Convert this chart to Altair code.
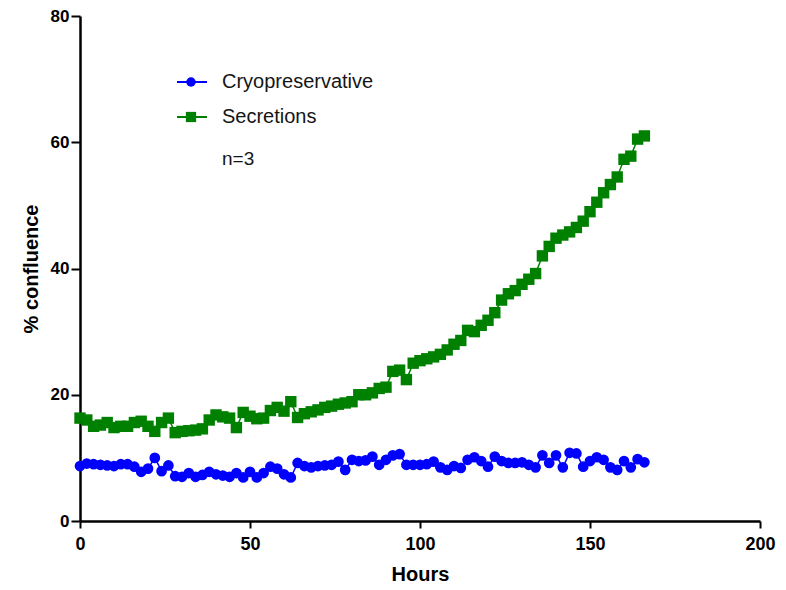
import altair as alt
import pandas as pd

hours = list(range(0, 168, 2))

cryo = [8.7, 9.1, 9.0, 8.9, 8.8, 8.7, 9.0, 9.0, 8.6, 7.8,
        8.3, 10.0, 7.9, 8.8, 7.1, 7.0, 7.6, 7.0, 7.3, 7.8,
        7.4, 7.2, 7.0, 7.6, 6.9, 7.8, 6.9, 7.6, 8.6, 8.3,
        7.4, 6.9, 9.2, 8.7, 8.5, 8.7, 8.8, 8.9, 9.4, 8.1,
        9.7, 9.5, 9.6, 10.2, 8.9, 9.7, 10.4, 10.6, 8.9, 8.9,
        8.9, 9.0, 9.4, 8.5, 8.1, 8.7, 8.4, 9.7, 10.1, 9.5,
        8.6, 10.2, 9.5, 9.2, 9.2, 9.3, 8.9, 8.5, 10.4, 9.2,
        10.4, 8.5, 10.8, 10.7, 8.6, 9.5, 10.1, 9.7, 8.5, 8.1,
        9.5, 8.5, 9.8, 9.3]

secretions = [16.3, 16.0, 15.0, 15.2, 15.6, 14.8, 15.0, 15.0, 15.6, 15.8,
              15.0, 14.2, 15.6, 16.3, 14.0, 14.2, 14.3, 14.4, 14.6, 16.0,
              16.8, 16.5, 16.3, 14.8, 17.2, 16.6, 16.2, 16.3, 17.5, 18.0,
              17.4, 18.9, 16.4, 17.0, 17.3, 17.6, 18.0, 18.2, 18.5, 18.7,
              18.9, 20.0, 20.0, 20.3, 21.0, 21.2, 23.7, 23.9, 22.4, 25.0,
              25.4, 25.7, 26.0, 26.4, 27.1, 28.0, 28.6, 30.2, 30.0, 31.0,
              31.8, 33.0, 35.0, 36.0, 36.5, 37.5, 38.3, 39.2, 42.0, 43.5,
              44.8, 45.3, 45.8, 46.5, 47.5, 49.0, 50.5, 52.0, 53.3, 54.5,
              57.3, 57.8, 60.5, 61.0]

series_names = ["Cryopreservative", "Secretions"]
series_colors = ["#0000ff", "#008000"]
series_shapes = ["circle", "square"]
series_sizes = [115, 130]

df = pd.DataFrame({
    "Hours": hours * 2,
    "value": cryo + secretions,
    "series": [series_names[0]] * len(hours) + [series_names[1]] * len(hours),
})

AXFONT = "Liberation Sans"

xenc = alt.X("Hours:Q", title="Hours",
             scale=alt.Scale(domain=[0, 200], nice=False, zero=True),
             axis=alt.Axis(values=[0, 50, 100, 150, 200], titlePadding=11, labelPadding=7,
                           labelFlush=False, labelFontSize=18))
yenc = alt.Y("value:Q", title="% confluence",
             scale=alt.Scale(domain=[0, 80], nice=False),
             axis=alt.Axis(values=[0, 20, 40, 60, 80], titlePadding=9, labelPadding=2,
                           labelFontSize=17, tickSize=9))
color = alt.Color("series:N", scale=alt.Scale(domain=series_names, range=series_colors), legend=None)
shape = alt.Shape("series:N", scale=alt.Scale(domain=series_names, range=series_shapes), legend=None)
size = alt.Size("series:N", scale=alt.Scale(domain=series_names, range=series_sizes), legend=None)

base = alt.Chart(df)
lines = base.mark_line(strokeWidth=1.5).encode(x=xenc, y=yenc, color=color, detail="series:N")
points = base.mark_point(filled=True, opacity=1).encode(x=xenc, y=yenc, color=color, shape=shape, size=size)

one = pd.DataFrame({"a": [0]})
leg_y = [66, 101]
layers = [lines, points]
for i, name in enumerate(series_names):
    layers.append(alt.Chart(one).mark_rule(color=series_colors[i], strokeWidth=2).encode(
        x=alt.value(97), x2=alt.value(127), y=alt.value(leg_y[i])))
    layers.append(alt.Chart(one).mark_point(filled=True, opacity=1, size=series_sizes[i] - 25,
                                            color=series_colors[i], shape=series_shapes[i]).encode(
        x=alt.value(111), y=alt.value(leg_y[i])))
    layers.append(alt.Chart(one).mark_text(text=name, align="left", baseline="middle",
                                           fontSize=20, font=AXFONT, color="#151515").encode(
        x=alt.value(142), y=alt.value(leg_y[i])))
layers.append(alt.Chart(one).mark_text(text="n=3", align="left", baseline="middle",
                                       fontSize=19, font=AXFONT, color="#151515").encode(
    x=alt.value(142), y=alt.value(143)))

chart = alt.layer(*layers).properties(
    width=680, height=505,
    autosize=alt.AutoSizeParams(type="none"),
    padding={"left": 72, "top": 8, "right": 18, "bottom": 68},
).configure_view(stroke=None).configure_axis(
    grid=False,
    domainColor="black", domainWidth=2.5,
    tickColor="black", tickWidth=2, tickSize=7,
    labelColor="black", labelFont=AXFONT, labelFontWeight="bold",
    titleColor="black", titleFont=AXFONT, titleFontSize=20, titleFontWeight="bold",
)

chart.save("out.html", embed_options={"renderer": "svg", "actions": False})
